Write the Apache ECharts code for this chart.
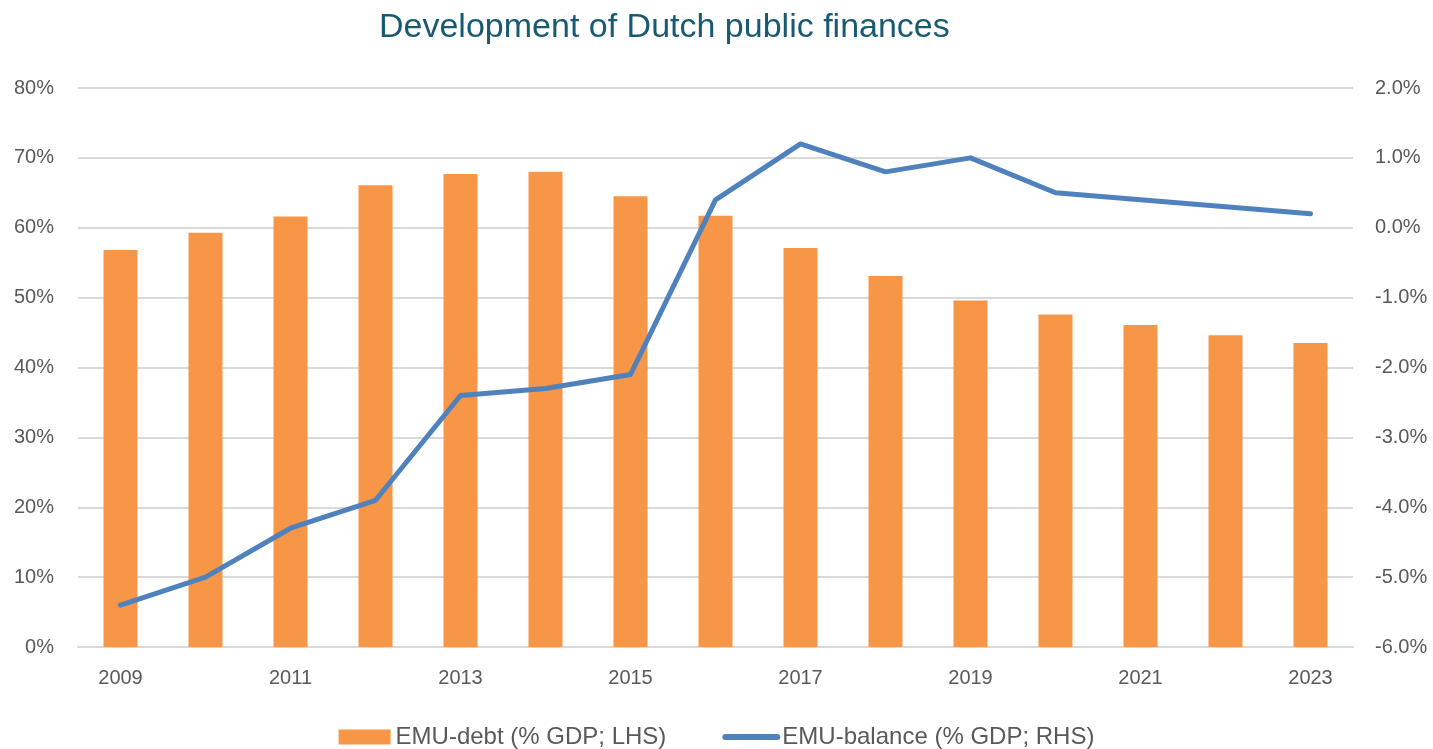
<!DOCTYPE html>
<html>
<head>
<meta charset="utf-8">
<script src="https://cdn.jsdelivr.net/npm/echarts@6/dist/echarts.min.js"></script>
<style>
  html, body { margin: 0; padding: 0; background: #fff; }
  #chart { width: 1433px; height: 749px; }
</style>
</head>
<body>
<div id="chart"></div>
<script>
// years on the x axis
var years = ['2009', '2010', '2011', '2012', '2013', '2014', '2015', '2016',
  '2017', '2018', '2019', '2020', '2021', '2022', '2023'];
// EMU-debt, % GDP (left axis)
var debt = [56.8, 59.3, 61.6, 66.1, 67.7, 68.0, 64.5, 61.7, 57.1, 53.1, 49.6, 47.6, 46.1, 44.6, 43.5];
// EMU-balance, % GDP (right axis)
var balance = [-5.4, -5.0, -4.3, -3.9, -2.4, -2.3, -2.1, 0.4, 1.2, 0.8, 1.0, 0.5, 0.4, 0.3, 0.2];

var labelColor = '#595959';
var font = 'Liberation Sans';

var chart = echarts.init(document.getElementById('chart'));
chart.setOption({
  animation: false,
  title: {
    text: 'Development of Dutch public finances',
    left: 374,
    top: 6,
    textStyle: { color: '#175a72', fontSize: 34, fontWeight: 'normal', fontFamily: font }
  },
  grid: { left: 78, right: 80, top: 88, bottom: 102, containLabel: false },
  legend: {
    data: [
      { name: 'EMU-debt (% GDP; LHS)', icon: 'rect' },
      {
        name: 'EMU-balance (% GDP; RHS)',
        itemStyle: { opacity: 0 },
        lineStyle: { width: 6, cap: 'round', color: '#4f81bd' }
      }
    ],
    left: 'center',
    top: 720,
    itemWidth: 52,
    itemHeight: 15,
    itemGap: 56,
    textStyle: { color: labelColor, fontSize: 24, fontFamily: font }
  },
  xAxis: {
    type: 'category',
    data: years,
    axisTick: { show: false },
    axisLine: { lineStyle: { color: '#d9d9d9', width: 2 } },
    axisLabel: { interval: 1, color: labelColor, fontSize: 20, fontFamily: font, margin: 21 }
  },
  yAxis: [
    {
      type: 'value',
      min: 0,
      max: 80,
      interval: 10,
      axisLabel: { formatter: '{value}%', color: labelColor, fontSize: 20, fontFamily: font, margin: 24 },
      axisLine: { show: false },
      axisTick: { show: false },
      splitLine: { lineStyle: { color: '#d9d9d9', width: 2 } }
    },
    {
      type: 'value',
      min: -6,
      max: 2,
      interval: 1,
      axisLabel: {
        formatter: function (v) { return v.toFixed(1) + '%'; },
        color: labelColor, fontSize: 20, fontFamily: font, margin: 22
      },
      axisLine: { show: false },
      axisTick: { show: false },
      splitLine: { show: false }
    }
  ],
  series: [
    {
      name: 'EMU-debt (% GDP; LHS)',
      type: 'bar',
      data: debt,
      yAxisIndex: 0,
      barWidth: 34,
      itemStyle: { color: '#f79646' }
    },
    {
      name: 'EMU-balance (% GDP; RHS)',
      type: 'line',
      data: balance,
      yAxisIndex: 1,
      symbol: 'none',
      lineStyle: { color: '#4f81bd', width: 5, cap: 'round', join: 'round' },
      itemStyle: { color: '#4f81bd' }
    }
  ]
});
</script>
</body>
</html>
